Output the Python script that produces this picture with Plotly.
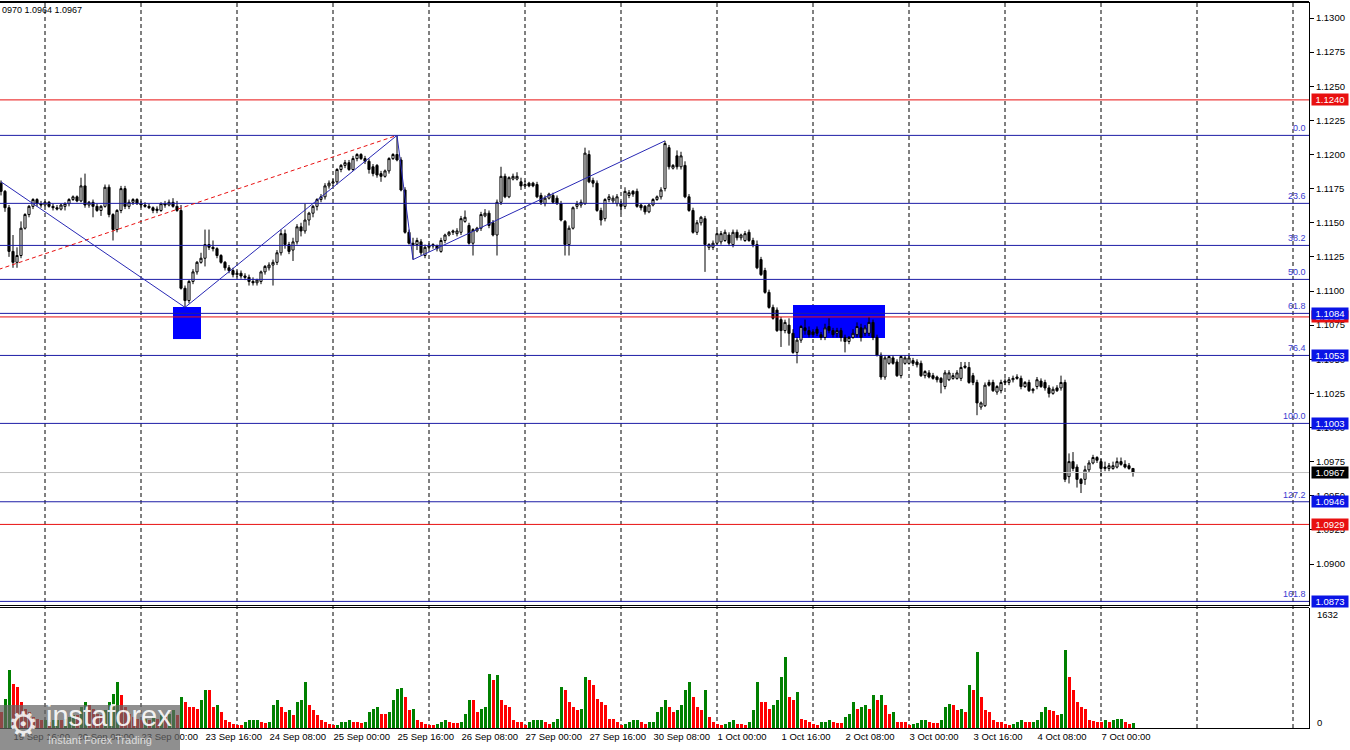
import pandas as pd
import plotly.graph_objects as go

# ---------------- data ----------------
header_text = "0970 1.0964 1.0967"
first_bar = "2019-09-19 13:00"

open_ = [
1.1179,1.1173,1.1161,1.1129,1.1121,1.1126,1.1146,1.1156,1.1162,1.1167,
1.1164,1.1163,1.1165,1.1162,1.1161,1.1160,1.1162,1.1164,1.1167,1.1169,
1.1166,1.1177,1.1163,1.1165,1.1162,1.1159,1.1162,1.1176,1.1156,1.1145,
1.1159,1.1175,1.1162,1.1165,1.1167,1.1164,1.1163,1.1162,1.1161,1.1160,
1.1159,1.1164,1.1163,1.1165,1.1162,1.1159,1.1102,1.1093,1.1107,1.1114,
1.1121,1.1124,1.1134,1.1132,1.1131,1.1126,1.1121,1.1117,1.1115,1.1112,
1.1113,1.1111,1.1110,1.1107,1.1106,1.1107,1.1114,1.1117,1.1119,1.1121,
1.1128,1.1142,1.1134,1.1130,1.1136,1.1147,1.1144,1.1152,1.1157,1.1162,
1.1167,1.1169,1.1177,1.1179,1.1180,1.1189,1.1192,1.1194,1.1189,1.1197,
1.1200,1.1197,1.1195,1.1191,1.1192,1.1186,1.1184,1.1188,1.1197,1.1200,
1.1196,1.1174,1.1143,1.1135,1.1134,1.1136,1.1126,1.1132,1.1133,1.1133,
1.1129,1.1137,1.1141,1.1143,1.1142,1.1143,1.1151,1.1148,1.1135,1.1144,
1.1146,1.1155,1.1157,1.1150,1.1141,1.1165,1.1184,1.1169,1.1182,1.1182,
1.1180,1.1177,1.1179,1.1179,1.1178,1.1170,1.1164,1.1168,1.1170,1.1168,
1.1164,1.1151,1.1134,1.1146,1.1162,1.1163,1.1164,1.1200,1.1181,1.1179,
1.1159,1.1153,1.1167,1.1166,1.1164,1.1164,1.1162,1.1170,1.1173,1.1173,
1.1163,1.1162,1.1158,1.1163,1.1167,1.1169,1.1175,1.1205,1.1190,1.1199,
1.1191,1.1192,1.1169,1.1159,1.1143,1.1150,1.1153,1.1132,1.1132,1.1135,
1.1136,1.1137,1.1141,1.1134,1.1143,1.1139,1.1137,1.1143,1.1137,1.1134,
1.1123,1.1115,1.1099,1.1088,1.1086,1.1079,1.1071,1.1075,1.1069,1.1055,
1.1064,1.1073,1.1071,1.1070,1.1072,1.1068,1.1066,1.1074,1.1071,1.1069,
1.1071,1.1066,1.1063,1.1066,1.1068,1.1073,1.1069,1.1069,1.1077,1.1066,
1.1053,1.1037,1.1047,1.1051,1.1048,1.1038,1.1047,1.1047,1.1049,1.1048,
1.1047,1.1038,1.1040,1.1038,1.1037,1.1036,1.1030,1.1035,1.1036,1.1036,
1.1036,1.1044,1.1044,1.1038,1.1033,1.1015,1.1016,1.1033,1.1033,1.1026,
1.1027,1.1033,1.1033,1.1035,1.1037,1.1036,1.1030,1.1033,1.1027,1.1030,
1.1034,1.1033,1.1029,1.1025,1.1029,1.1029,1.1033,1.0964,1.0975,1.0971,
1.0962,1.0962,1.0969,1.0974,1.0978,1.0975,1.0970,1.0970,1.0970,1.0971,
1.0975,1.0973,1.0972,1.0970]

high = [
1.1181,1.1174,1.1163,1.1141,1.1132,1.1151,1.1157,1.1163,1.1168,1.1168,
1.1166,1.1166,1.1166,1.1164,1.1163,1.1164,1.1165,1.1168,1.1170,1.1170,
1.1183,1.1186,1.1166,1.1167,1.1164,1.1163,1.1178,1.1178,1.1157,1.1160,
1.1177,1.1177,1.1167,1.1168,1.1168,1.1166,1.1165,1.1164,1.1162,1.1162,
1.1165,1.1166,1.1167,1.1168,1.1166,1.1163,1.1104,1.1108,1.1116,1.1122,
1.1128,1.1145,1.1145,1.1137,1.1132,1.1127,1.1122,1.1119,1.1117,1.1115,
1.1115,1.1113,1.1112,1.1110,1.1109,1.1115,1.1119,1.1121,1.1123,1.1130,
1.1145,1.1145,1.1136,1.1139,1.1149,1.1150,1.1164,1.1158,1.1163,1.1168,
1.1171,1.1179,1.1181,1.1182,1.1190,1.1193,1.1196,1.1196,1.1199,1.1201,
1.1201,1.1199,1.1197,1.1193,1.1193,1.1188,1.1189,1.1198,1.1201,1.1214,
1.1198,1.1176,1.1145,1.1139,1.1139,1.1138,1.1134,1.1135,1.1135,1.1134,
1.1139,1.1142,1.1144,1.1145,1.1146,1.1155,1.1159,1.1150,1.1146,1.1147,
1.1158,1.1160,1.1159,1.1152,1.1167,1.1191,1.1186,1.1184,1.1186,1.1187,
1.1183,1.1181,1.1180,1.1180,1.1180,1.1172,1.1170,1.1172,1.1172,1.1170,
1.1166,1.1152,1.1148,1.1162,1.1166,1.1167,1.1205,1.1203,1.1183,1.1181,
1.1161,1.1168,1.1171,1.1170,1.1171,1.1166,1.1176,1.1174,1.1174,1.1175,
1.1164,1.1163,1.1164,1.1168,1.1170,1.1176,1.1210,1.1207,1.1193,1.1203,
1.1202,1.1195,1.1171,1.1161,1.1152,1.1155,1.1155,1.1135,1.1137,1.1144,
1.1144,1.1145,1.1143,1.1145,1.1145,1.1142,1.1144,1.1145,1.1139,1.1137,
1.1125,1.1117,1.1101,1.1090,1.1088,1.1081,1.1079,1.1080,1.1072,1.1066,
1.1075,1.1079,1.1074,1.1072,1.1074,1.1070,1.1076,1.1080,1.1073,1.1073,
1.1073,1.1068,1.1067,1.1072,1.1077,1.1076,1.1075,1.1081,1.1079,1.1068,
1.1055,1.1053,1.1053,1.1053,1.1050,1.1053,1.1053,1.1053,1.1051,1.1050,
1.1049,1.1042,1.1042,1.1040,1.1038,1.1037,1.1042,1.1042,1.1040,1.1042,
1.1048,1.1048,1.1048,1.1040,1.1035,1.1019,1.1033,1.1035,1.1035,1.1031,
1.1035,1.1036,1.1037,1.1038,1.1039,1.1038,1.1034,1.1035,1.1029,1.1037,
1.1036,1.1035,1.1031,1.1030,1.1031,1.1038,1.1035,1.0981,1.0982,1.0973,
1.0963,1.0972,1.0976,1.0980,1.0979,1.0977,1.0975,1.0974,1.0975,1.0978,
1.0978,1.0976,1.0974,1.0970]

low = [
1.1170,1.1158,1.1125,1.1117,1.1117,1.1124,1.1145,1.1154,1.1160,1.1162,
1.1161,1.1162,1.1161,1.1159,1.1159,1.1159,1.1159,1.1162,1.1166,1.1165,
1.1165,1.1161,1.1161,1.1154,1.1158,1.1155,1.1161,1.1154,1.1137,1.1143,
1.1157,1.1160,1.1160,1.1163,1.1163,1.1161,1.1161,1.1160,1.1157,1.1157,
1.1158,1.1161,1.1162,1.1161,1.1158,1.1101,1.1088,1.1091,1.1105,1.1112,
1.1120,1.1118,1.1130,1.1129,1.1124,1.1120,1.1115,1.1113,1.1110,1.1110,
1.1109,1.1108,1.1104,1.1104,1.1104,1.1105,1.1112,1.1115,1.1104,1.1119,
1.1126,1.1131,1.1127,1.1122,1.1134,1.1140,1.1142,1.1148,1.1154,1.1159,
1.1165,1.1167,1.1175,1.1177,1.1178,1.1187,1.1190,1.1188,1.1188,1.1195,
1.1196,1.1193,1.1186,1.1184,1.1183,1.1180,1.1183,1.1186,1.1196,1.1195,
1.1173,1.1142,1.1134,1.1123,1.1130,1.1126,1.1124,1.1131,1.1131,1.1129,
1.1128,1.1135,1.1140,1.1141,1.1140,1.1141,1.1150,1.1134,1.1126,1.1143,
1.1144,1.1154,1.1146,1.1140,1.1126,1.1163,1.1168,1.1168,1.1181,1.1181,
1.1174,1.1176,1.1176,1.1176,1.1168,1.1163,1.1162,1.1167,1.1164,1.1163,
1.1151,1.1126,1.1126,1.1145,1.1160,1.1161,1.1163,1.1179,1.1176,1.1158,
1.1148,1.1151,1.1165,1.1164,1.1162,1.1157,1.1160,1.1168,1.1169,1.1161,
1.1159,1.1156,1.1157,1.1162,1.1166,1.1167,1.1173,1.1189,1.1189,1.1189,
1.1189,1.1168,1.1158,1.1142,1.1141,1.1148,1.1114,1.1130,1.1130,1.1134,
1.1134,1.1136,1.1133,1.1132,1.1137,1.1137,1.1136,1.1136,1.1132,1.1116,
1.1111,1.1098,1.1087,1.1079,1.1070,1.1059,1.1069,1.1060,1.1054,1.1047,
1.1062,1.1068,1.1066,1.1066,1.1067,1.1064,1.1064,1.1069,1.1066,1.1066,
1.1063,1.1055,1.1061,1.1065,1.1066,1.1063,1.1067,1.1067,1.1064,1.1052,
1.1035,1.1035,1.1046,1.1046,1.1037,1.1036,1.1046,1.1046,1.1045,1.1044,
1.1037,1.1036,1.1036,1.1035,1.1033,1.1025,1.1028,1.1034,1.1035,1.1035,
1.1034,1.1043,1.1032,1.1031,1.1009,1.1013,1.1015,1.1030,1.1026,1.1024,
1.1025,1.1031,1.1031,1.1033,1.1035,1.1028,1.1029,1.1026,1.1025,1.1028,
1.1029,1.1027,1.1022,1.1024,1.1026,1.1027,1.0960,1.0959,1.0968,1.0956,
1.0952,1.0958,1.0967,1.0973,1.0974,1.0964,1.0968,1.0968,1.0969,1.0970,
1.0972,1.0970,1.0969,1.0964]

close = [
1.1173,1.1161,1.1129,1.1121,1.1126,1.1146,1.1156,1.1162,1.1167,1.1164,
1.1163,1.1165,1.1162,1.1161,1.1160,1.1163,1.1164,1.1167,1.1169,1.1166,
1.1177,1.1163,1.1165,1.1162,1.1159,1.1162,1.1176,1.1156,1.1145,1.1159,
1.1175,1.1162,1.1165,1.1167,1.1164,1.1163,1.1162,1.1161,1.1159,1.1159,
1.1164,1.1163,1.1165,1.1162,1.1159,1.1102,1.1093,1.1107,1.1114,1.1121,
1.1124,1.1134,1.1132,1.1131,1.1126,1.1121,1.1117,1.1115,1.1112,1.1113,
1.1111,1.1110,1.1107,1.1106,1.1108,1.1114,1.1118,1.1119,1.1121,1.1128,
1.1142,1.1134,1.1129,1.1136,1.1147,1.1144,1.1152,1.1157,1.1162,1.1167,
1.1169,1.1177,1.1179,1.1180,1.1189,1.1192,1.1194,1.1189,1.1197,1.1200,
1.1197,1.1195,1.1189,1.1186,1.1185,1.1184,1.1188,1.1197,1.1200,1.1196,
1.1174,1.1143,1.1135,1.1134,1.1137,1.1128,1.1132,1.1133,1.1134,1.1131,
1.1137,1.1141,1.1143,1.1144,1.1144,1.1153,1.1154,1.1135,1.1145,1.1146,
1.1156,1.1157,1.1148,1.1141,1.1165,1.1184,1.1169,1.1183,1.1184,1.1184,
1.1177,1.1178,1.1177,1.1177,1.1169,1.1165,1.1168,1.1171,1.1165,1.1164,
1.1152,1.1134,1.1146,1.1161,1.1164,1.1165,1.1201,1.1180,1.1179,1.1159,
1.1152,1.1167,1.1169,1.1168,1.1169,1.1162,1.1173,1.1172,1.1171,1.1162,
1.1161,1.1158,1.1163,1.1167,1.1169,1.1174,1.1208,1.1191,1.1192,1.1191,
1.1199,1.1169,1.1159,1.1143,1.1150,1.1154,1.1134,1.1134,1.1135,1.1142,
1.1142,1.1143,1.1135,1.1143,1.1139,1.1141,1.1142,1.1137,1.1134,1.1117,
1.1112,1.1099,1.1088,1.1080,1.1071,1.1071,1.1077,1.1069,1.1055,1.1064,
1.1074,1.1071,1.1068,1.1068,1.1069,1.1066,1.1073,1.1071,1.1068,1.1071,
1.1066,1.1063,1.1066,1.1069,1.1074,1.1066,1.1073,1.1077,1.1066,1.1053,
1.1037,1.1051,1.1052,1.1047,1.1038,1.1052,1.1051,1.1051,1.1047,1.1046,
1.1038,1.1041,1.1037,1.1036,1.1035,1.1033,1.1040,1.1040,1.1038,1.1040,
1.1044,1.1045,1.1033,1.1033,1.1018,1.1018,1.1031,1.1031,1.1027,1.1030,
1.1033,1.1034,1.1035,1.1036,1.1036,1.1030,1.1033,1.1027,1.1028,1.1035,
1.1030,1.1029,1.1025,1.1028,1.1027,1.1033,1.0962,1.0975,1.0970,1.0962,
1.0959,1.0969,1.0974,1.0978,1.0976,1.0970,1.0971,1.0972,1.0972,1.0975,
1.0973,1.0971,1.0970,1.0967]

volume = [
218,408,789,612,571,367,272,218,163,136,
109,122,95,109,122,109,136,163,190,177,
299,354,326,272,204,177,245,354,476,639,
462,286,204,150,136,109,136,109,150,136,
177,150,204,245,177,422,354,299,286,272,
381,530,517,299,326,218,122,95,68,54,
52,82,109,112,114,82,80,95,326,394,
286,218,245,190,367,381,626,313,258,190,
109,95,68,41,54,82,95,122,95,82,
80,84,231,272,286,204,200,218,381,544,
548,422,258,272,109,95,68,54,50,68,
95,109,82,80,78,95,204,394,381,218,
272,286,748,666,721,394,313,286,109,95,
82,54,82,109,112,122,82,68,82,136,
558,517,354,286,258,265,694,653,598,408,
354,313,136,129,82,41,68,82,109,116,
82,68,82,95,231,286,394,299,218,258,
313,530,639,422,299,258,530,150,82,68,
54,68,95,109,68,61,54,82,258,626,
367,354,272,326,394,694,966,435,381,503,
136,122,95,68,54,82,95,109,82,79,
76,150,204,354,272,286,313,272,462,381,
449,313,204,218,95,92,82,54,68,71,
109,113,82,79,76,122,286,340,313,258,
272,218,598,517,1047,422,258,218,109,95,
82,68,54,68,95,109,95,82,88,109,
218,299,245,242,177,204,1061,707,530,354,
299,272,109,106,95,82,109,95,122,125,
128,82,68,71]
volume_max = 1632

x_labels = ["19 Sep 16:00", "20 Sep 08:00", "23 Sep 00:00", "23 Sep 16:00",
            "24 Sep 08:00", "25 Sep 00:00", "25 Sep 16:00", "26 Sep 08:00",
            "27 Sep 00:00", "27 Sep 16:00", "30 Sep 08:00", "1 Oct 00:00",
            "1 Oct 16:00", "2 Oct 08:00", "3 Oct 00:00", "3 Oct 16:00",
            "4 Oct 08:00", "7 Oct 00:00"]
price_ticks = [1.0900, 1.0925, 1.0950, 1.0975, 1.1000, 1.1025, 1.1050, 1.1075,
               1.1100, 1.1125, 1.1150, 1.1175, 1.1200, 1.1225, 1.1250, 1.1275, 1.1300]

fib_high = 1.1214
fib_low = 1.1003
fib_ratios = [0.0, 23.6, 38.2, 50.0, 61.8, 76.4, 100.0, 127.2, 161.8]
fib_tagged = [61.8, 76.4, 100.0, 127.2, 161.8]
fib_anchor_times = ["2019-09-12 18:00", "2019-09-25 16:00"]
fib_anchor_prices = [1.1003, 1.1214]

red_levels = [1.1240, 1.1081, 1.0929]
current_price = 1.0967

zigzag_times = ["2019-09-19 13:00", "2019-09-23 11:00", "2019-09-25 16:00",
                "2019-09-25 20:00", "2019-09-30 11:00"]
zigzag_prices = [1.1180, 1.1088, 1.1214, 1.1123, 1.1210]

zone_starts = ["2019-09-23 08:00", "2019-10-01 19:00"]
zone_ends = ["2019-09-23 15:00", "2019-10-02 18:00"]
zone_lows = [1.10648, 1.10656]
zone_highs = [1.10883, 1.10897]

# ---------------- helpers ----------------
n = len(close)
assert len(open_) == n and len(high) == n and len(low) == n and len(volume) == n

cal = pd.date_range("2019-09-09 00:00", "2019-10-10 23:00", freq="h")
cal = cal[cal.dayofweek < 5]
t0 = cal.get_loc(pd.Timestamp(first_bar))


def pos(ts):
    return cal.get_loc(pd.Timestamp(ts)) - t0


xs = list(range(n))
X_MIN, X_MAX = -0.25, 327.0
tick_pos = [pos(pd.to_datetime(s + " 2019", format="%d %b %H:%M %Y")) for s in x_labels]
day_lines = [pos(t) for t in cal if t.hour == 0 and X_MIN <= pos(t) <= X_MAX]

W, H = 1350, 750
ML, MR, MT, MB = 0, 41, 2, 22
PW = W - ML - MR
PH = H - MT - MB


def py(pix):  # pixel y -> paper y
    return (H - MB - pix) / PH


def px(pix):  # pixel x -> paper x
    return (pix - ML) / PW


main_bottom = py(605.5)
vol_top = py(607.5)
y_top = 1.1300 + 16 / 13650.0
y_bot = 1.1300 - 587.5 / 13650.0

FONT = "Liberation Sans, Arial, sans-serif"
FIB_BLUE = "#1c1ca6"
RED = "#e81010"
LABEL_BLUE = "#0a14e6"

fib_levels = [fib_high - r / 100.0 * (fib_high - fib_low) for r in fib_ratios]

# ---------------- traces ----------------
fig = go.Figure()
fig.add_trace(go.Candlestick(
    x=xs, open=open_, high=high, low=low, close=close,
    increasing=dict(line=dict(color="black", width=1), fillcolor="white"),
    decreasing=dict(line=dict(color="black", width=1), fillcolor="black"),
    whiskerwidth=0, xaxis="x", yaxis="y", hoverinfo="skip", showlegend=False))

vol_colors = ["#ff0000"] + ["#008000" if volume[i] > volume[i - 1] else "#ff0000" for i in range(1, n)]
fig.add_trace(go.Bar(x=xs, y=volume, width=0.75,
                     marker=dict(color=vol_colors, line=dict(width=0)),
                     xaxis="x2", yaxis="y2", hoverinfo="skip", showlegend=False))

# ---------------- shapes ----------------
shapes = []
for s, e, lo, hi in zip(zone_starts, zone_ends, zone_lows, zone_highs):
    shapes.append(dict(type="rect", xref="x", yref="y", x0=pos(s), x1=pos(e), y0=lo, y1=hi,
                       fillcolor="#0000ff", line=dict(width=0), layer="below"))
for d in day_lines:
    shapes.append(dict(type="line", xref="x", yref="paper", x0=d, x1=d, y0=0, y1=1,
                       line=dict(color="black", width=1, dash="4px,3px"), layer="below"))

shapes.append(dict(type="line", xref="x", yref="y", x0=X_MIN, x1=X_MAX,
                   y0=current_price, y1=current_price, line=dict(color="#c0c0c0", width=1)))
for lv in fib_levels:
    shapes.append(dict(type="line", xref="x", yref="y", x0=X_MIN, x1=X_MAX, y0=lv, y1=lv,
                       line=dict(color=FIB_BLUE, width=1)))
for lv in red_levels:
    shapes.append(dict(type="line", xref="x", yref="y", x0=X_MIN, x1=X_MAX, y0=lv, y1=lv,
                       line=dict(color=RED, width=1)))
# fibonacci trend line (dashed red)
shapes.append(dict(type="line", xref="x", yref="y",
                   x0=pos(fib_anchor_times[0]), x1=pos(fib_anchor_times[1]),
                   y0=fib_anchor_prices[0], y1=fib_anchor_prices[1],
                   line=dict(color=RED, width=1, dash="4px,3px")))
# zigzag
for i in range(len(zigzag_times) - 1):
    shapes.append(dict(type="line", xref="x", yref="y",
                       x0=pos(zigzag_times[i]), x1=pos(zigzag_times[i + 1]),
                       y0=zigzag_prices[i], y1=zigzag_prices[i + 1],
                       line=dict(color="#2828b4", width=1)))
# frame lines
shapes.append(dict(type="line", xref="paper", yref="paper", x0=0, x1=1, y0=1, y1=1,
                   line=dict(color="black", width=2)))
shapes.append(dict(type="line", xref="paper", yref="paper", x0=0, x1=1, y0=main_bottom, y1=main_bottom,
                   line=dict(color="black", width=1)))
shapes.append(dict(type="line", xref="paper", yref="paper", x0=0, x1=1, y0=vol_top, y1=vol_top,
                   line=dict(color="black", width=1)))
# watermark box
shapes.append(dict(type="rect", xref="paper", yref="paper", x0=0, x1=px(180), y0=py(750), y1=py(705),
                   fillcolor="rgba(100,100,100,0.72)", line=dict(width=0), layer="above"))

# ---------------- annotations ----------------
ann = []
ann.append(dict(text=header_text, xref="paper", yref="paper", x=0, y=py(10.5), xanchor="left",
                yanchor="middle", showarrow=False, font=dict(family=FONT, size=9, color="black")))
for r, lv in zip(fib_ratios, fib_levels):
    ann.append(dict(text=f"{r:.1f}", xref="paper", yref="y", x=px(1307), y=lv, xanchor="right",
                    yanchor="bottom", yshift=1, showarrow=False, borderpad=0,
                    font=dict(family=FONT, size=9, color="#3a3ad0")))


def price_tag(val, bg):
    return dict(text=f"{val:.4f}", xref="paper", yref="y", x=px(1311), y=val, xanchor="left",
                yanchor="middle", showarrow=False, bgcolor=bg, width=36, height=11, borderpad=0,
                font=dict(family=FONT, size=9.5, color="white"))


tags = [(red_levels[1], RED)]
for r, lv in zip(fib_ratios, fib_levels):
    if r in fib_tagged:
        tags.append((lv, LABEL_BLUE))
tags += [(red_levels[0], RED), (red_levels[2], RED), (current_price, "black")]
for v, c in tags:
    ann.append(price_tag(v, c))

ann.append(dict(text=str(volume_max), xref="paper", yref="paper", x=px(1315), y=py(614),
                xanchor="left", yanchor="middle", showarrow=False,
                font=dict(family=FONT, size=9.5, color="black")))
ann.append(dict(text="0", xref="paper", yref="paper", x=px(1315), y=py(722),
                xanchor="left", yanchor="middle", showarrow=False,
                font=dict(family=FONT, size=9.5, color="black")))
# watermark texts
ann.append(dict(text="\u2699", xref="paper", yref="paper", x=px(23), y=py(724), xanchor="center",
                yanchor="middle", showarrow=False,
                font=dict(family="DejaVu Sans", size=34, color="rgba(255,255,255,0.85)")))
ann.append(dict(text="instaforex", xref="paper", yref="paper", x=px(44), y=py(716), xanchor="left",
                yanchor="middle", showarrow=False,
                font=dict(family=FONT, size=29, color="rgba(255,255,255,0.9)")))
ann.append(dict(text="Instant Forex Trading", xref="paper", yref="paper", x=px(46), y=py(740),
                xanchor="left", yanchor="middle", showarrow=False,
                font=dict(family=FONT, size=11, color="rgba(235,235,235,0.85)")))

# ---------------- layout ----------------
fig.update_layout(
    width=W, height=H, margin=dict(l=ML, r=MR, t=MT, b=MB, autoexpand=False),
    paper_bgcolor="white", plot_bgcolor="white", showlegend=False,
    hovermode=False, boxgap=0.25, bargap=0,
    xaxis=dict(domain=[0, 1], range=[X_MIN, X_MAX], anchor="y", showgrid=False, zeroline=False,
               showticklabels=False, ticks="", rangeslider=dict(visible=False), fixedrange=True,
               automargin=False),
    xaxis2=dict(domain=[0, 1], range=[X_MIN, X_MAX], anchor="y2", matches="x", showgrid=False,
                zeroline=False, tickmode="array", tickvals=tick_pos, ticktext=x_labels, ticks="",
                tickangle=0, automargin=False,
                ticklabelposition="outside right", showline=True, linecolor="black", linewidth=1,
                tickfont=dict(family=FONT, size=9.5, color="black")),
    yaxis=dict(domain=[main_bottom, 1], range=[y_bot, y_top], anchor="x", side="right",
               tickmode="array", tickvals=price_ticks, tickformat=".4f", ticks="outside",
               ticklen=4, tickcolor="black", showgrid=False, zeroline=False, showline=True,
               automargin=False,
               linecolor="black", linewidth=1, tickfont=dict(family=FONT, size=9.5, color="black")),
    yaxis2=dict(domain=[0, vol_top], range=[0, volume_max * 120.5 / 120.0], anchor="x2", side="right",
                showticklabels=False, ticks="", showgrid=False, zeroline=False, showline=True,
                automargin=False, linecolor="black", linewidth=1),
    shapes=shapes, annotations=ann,
)

fig.write_html("out.html", config={"displayModeBar": False},
               post_script="document.body.style.margin='0';document.body.style.overflow='hidden';")
